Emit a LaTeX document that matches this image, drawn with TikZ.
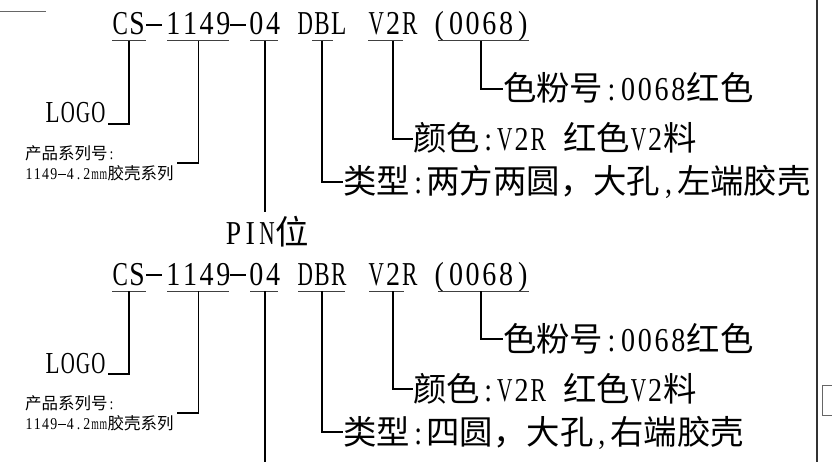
\documentclass[tikz,border=0pt]{standalone}
\usepackage{fontspec}
\setmainfont{Liberation Serif}[FakeStretch=0.84]
\newfontfamily\cjk{Noto Sans CJK SC}
\ExplSyntaxOn
\box_new:N \l_mono_box
\NewDocumentCommand\monochar{m}{
  \hbox_set:Nn \l_mono_box {#1}
  \dim_compare:nNnT {\box_wd:N \l_mono_box} > {.46em}
    { \box_resize_to_wd_and_ht:Nnn \l_mono_box {.46em} {\box_ht:N \l_mono_box} }
  \makebox[.5em]{\box_use:N \l_mono_box}
}
\NewDocumentCommand\mono{m}{\tl_map_inline:nn{#1}{\monochar{##1}}}
\ExplSyntaxOff
\newcommand\monodash{\makebox[.5em]{\rule[.27em]{.48em}{.045em}}}
\begin{document}
\begin{tikzpicture}[x=1pt,y=-1pt,
  code/.style={font=\fontsize{33.4}{40}\selectfont, inner sep=0pt, outer sep=0pt, anchor=base west, text height=23pt, text depth=6pt},
  lab/.style={font=\fontsize{33.4}{40}\selectfont, inner sep=0pt, outer sep=0pt, anchor=west, text height=26pt, text depth=2pt},
  logotext/.style={font=\fontsize{30.5}{36}\selectfont, inner sep=0pt, outer sep=0pt, anchor=base west},
  small/.style={font=\fontsize{16.5}{20}\selectfont, inner sep=0pt, outer sep=0pt, anchor=west, align=left},
  conn/.style={line width=1.8pt, black},
  uline/.style={line width=1pt, black!75},
  frame/.style={line width=2pt, black!80},
  thin/.style={line width=1pt, black!60}]
\useasboundingbox (0,0) rectangle (832,462);

% frame pieces
\draw[thin] (0,12) -- (46,12);
\draw[frame] (817,0) -- (817,462);
\draw[thin] (832,385) -- (822,385) -- (822,415) -- (832,415);

% ---------- row 1 ----------
\node[code] (cs1)  at (112,35) {\mono{CS}};
\node[code] (ha1)  at (146,35) {\monodash};
\node[code] (ser1) at (165,35) {\mono{1149}};
\node[code] (hb1)  at (230,35) {\monodash};
\node[code] (pin1) at (248,35) {\mono{04}};
\node[code] (typ1) at (297,35) {\mono{DBL}};
\node[code] (col1) at (368,35) {\mono{V2R}};
\node[code] (pow1) at (431,35) {\mono{(0068)}};
\draw[uline] (112,41) -- (146,41);
\draw[uline] (167,41) -- (229,41);
\draw[uline] (250,41) -- (278,41);
\draw[uline] (312,41) -- (333,41);
\draw[uline] (368,41) -- (403,41);
\draw[uline] (438,41) -- (529,41);

\node[logotext] (logo1) at (45,123) {\mono{LOGO}};
\node[small] (sr1) at (25,163) {{\cjk 产品系列号}\mono{:}\\\mono{1149}\monodash\mono{4.2mm}{\cjk 胶壳系列}};
\node[code, anchor=base] (pt1) at (267,244) {\mono{PIN}{\cjk 位}};
\node[lab] (l1a) at (503,89) {{\cjk 色粉号}\mono{:0068}{\cjk 红色}};
\node[lab] (l1b) at (413,139) {{\cjk 颜色}\mono{:V2R}\hspace{.5em}{\cjk 红色}\mono{V2}{\cjk 料}};
\node[lab] (l1c) at (343,182) {{\cjk 类型}\mono{:}{\cjk 两方两圆，大孔}\mono{,}{\cjk 左端胶壳}};

\draw[conn] (cs1.south) |- ([shift={(2pt,-1pt)}]logo1.base east);
\draw[conn] (ser1.south) |- ([xshift=3pt]sr1.east);
\coordinate (pe1) at ([yshift=9pt]pt1.north);
\draw[conn] (pin1.south) -- (pin1.south |- pe1);
\draw[conn] (typ1.south) |- (l1c.west);
\draw[conn] (col1.south) |- (l1b.west);
\draw[conn] (pow1.south) |- (l1a.west);

% ---------- row 2 ----------
\begin{scope}[yshift=-250pt]
\node[code] (cs2)  at (112,35) {\mono{CS}};
\node[code] (ha2)  at (146,35) {\monodash};
\node[code] (ser2) at (165,35) {\mono{1149}};
\node[code] (hb2)  at (230,35) {\monodash};
\node[code] (pin2) at (248,35) {\mono{04}};
\node[code] (typ2) at (297,35) {\mono{DBR}};
\node[code] (col2) at (368,35) {\mono{V2R}};
\node[code] (pow2) at (431,35) {\mono{(0068)}};
\draw[uline] (112,41) -- (146,41);
\draw[uline] (167,41) -- (229,41);
\draw[uline] (250,41) -- (278,41);
\draw[uline] (298,41) -- (345,41);
\draw[uline] (369,41) -- (404,41);
\draw[uline] (438,41) -- (529,41);

\node[logotext] (logo2) at (45,123) {\mono{LOGO}};
\node[small] (sr2) at (25,163) {{\cjk 产品系列号}\mono{:}\\\mono{1149}\monodash\mono{4.2mm}{\cjk 胶壳系列}};
\node[lab] (l2a) at (503,89) {{\cjk 色粉号}\mono{:0068}{\cjk 红色}};
\node[lab] (l2b) at (413,139) {{\cjk 颜色}\mono{:V2R}\hspace{.5em}{\cjk 红色}\mono{V2}{\cjk 料}};
\node[lab] (l2c) at (343,182) {{\cjk 类型}\mono{:}{\cjk 四圆，大孔}\mono{,}{\cjk 右端胶壳}};

\draw[conn] (cs2.south) |- ([shift={(2pt,-1pt)}]logo2.base east);
\draw[conn] (ser2.south) |- ([xshift=3pt]sr2.east);
\draw[conn] (typ2.south) |- (l2c.west);
\draw[conn] (col2.south) |- (l2b.west);
\draw[conn] (pow2.south) |- (l2a.west);
\end{scope}
\coordinate (pe2) at (265,462);
\draw[conn] (pin2.south) -- (pin2.south |- pe2);
\end{tikzpicture}
\end{document}
